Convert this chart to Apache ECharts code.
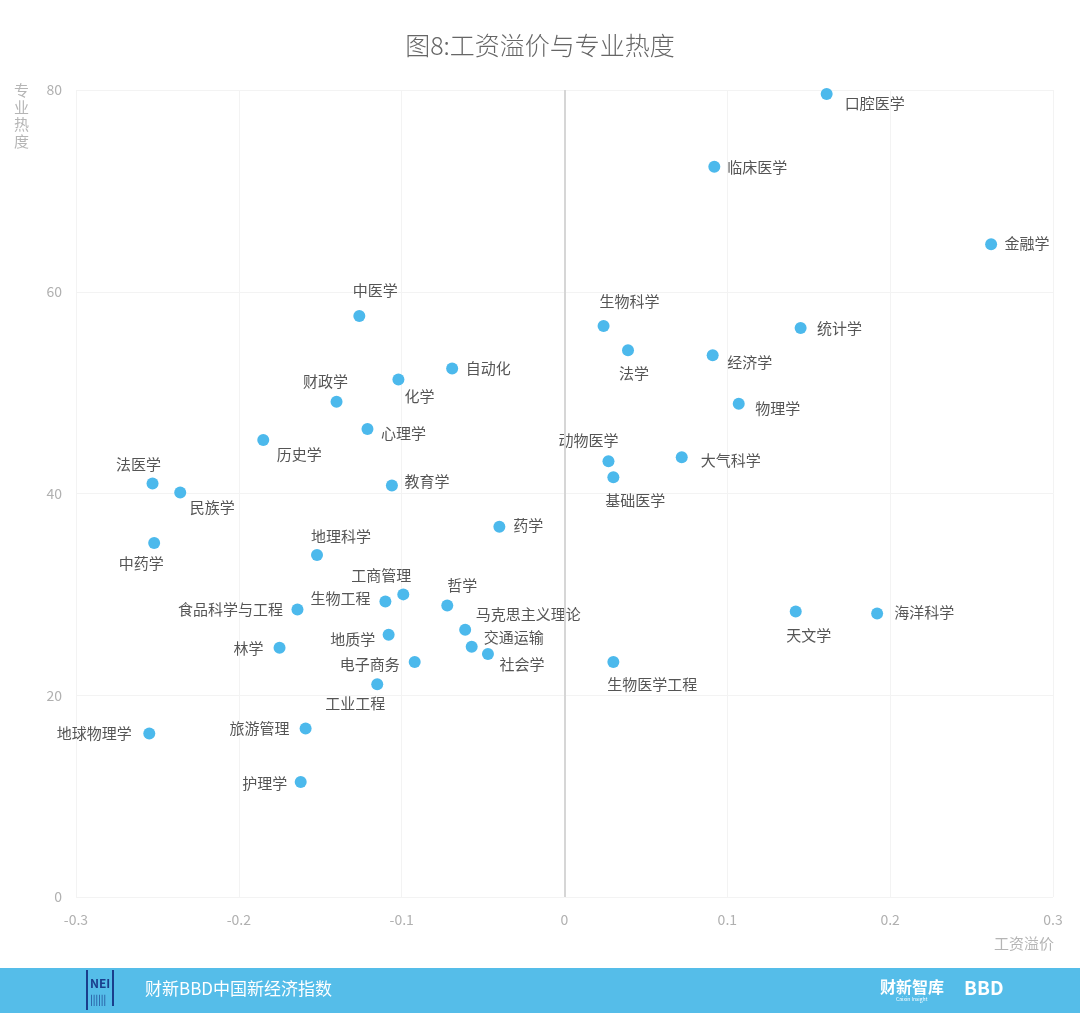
<!DOCTYPE html>
<html>
<head>
<meta charset="utf-8">
<script src="https://cdn.jsdelivr.net/npm/echarts@6/dist/echarts.min.js"></script>
<style>
  html, body { margin: 0; padding: 0; background: #fff; }
  #chart { width: 1080px; height: 1013px; }
</style>
</head>
<body>
<div id="chart"></div>
<script>
// majors, salary premium (x) and popularity (y)
const majors = [
  "口腔医学", "临床医学", "金融学", "中医学", "生物科学", "统计学", "法学", "经济学",
  "自动化", "化学", "财政学", "物理学", "心理学", "历史学", "动物医学", "大气科学",
  "基础医学", "法医学", "教育学", "民族学", "药学", "中药学", "地理科学", "工商管理",
  "哲学", "生物工程", "食品科学与工程", "天文学", "海洋科学", "马克思主义理论", "地质学",
  "交通运输", "林学", "社会学", "电子商务", "生物医学工程", "工业工程", "旅游管理",
  "地球物理学", "护理学"
];
const salaryPremium = [
  0.161, 0.092, 0.262, -0.126, 0.024, 0.145, 0.039, 0.091,
  -0.069, -0.102, -0.140, 0.107, -0.121, -0.185, 0.027, 0.072,
  0.030, -0.253, -0.106, -0.236, -0.040, -0.252, -0.152, -0.099,
  -0.072, -0.110, -0.164, 0.142, 0.192, -0.061, -0.108,
  -0.057, -0.175, -0.047, -0.092, 0.030, -0.115, -0.159,
  -0.255, -0.162
];
const popularity = [
  79.6, 72.4, 64.7, 57.6, 56.6, 56.4, 54.2, 53.7,
  52.4, 51.3, 49.1, 48.9, 46.4, 45.3, 43.2, 43.6,
  41.6, 41.0, 40.8, 40.1, 36.7, 35.1, 33.9, 30.0,
  28.9, 29.3, 28.5, 28.3, 28.1, 26.5, 26.0,
  24.8, 24.7, 24.1, 23.3, 23.3, 21.1, 16.7,
  16.2, 11.4
];
const xTicks = [-0.3, -0.2, -0.1, 0, 0.1, 0.2, 0.3];
const yTicks = [0, 20, 40, 60, 80];

// label offset from dot centre, [dx, dy] in px
const labelOffset = {
  "口腔医学": [48, 9], "临床医学": [43, 1], "金融学": [36, -1], "中医学": [16, -26],
  "生物科学": [26, -25], "统计学": [39, 0], "法学": [6, 23], "经济学": [37, 7],
  "自动化": [36, 0], "化学": [21, 17], "财政学": [-11, -20], "物理学": [39, 5],
  "心理学": [36, 4], "历史学": [36, 14], "动物医学": [-20, -21], "大气科学": [49, 3],
  "基础医学": [22, 23], "法医学": [-14, -19], "教育学": [35, -4], "民族学": [32, 15],
  "药学": [29, -1], "中药学": [-13, 20], "地理科学": [24, -19], "工商管理": [-22, -19],
  "哲学": [15, -20], "生物工程": [-45, -3], "食品科学与工程": [-67, 0], "天文学": [13, 24],
  "海洋科学": [47, -1], "马克思主义理论": [63, -15], "地质学": [-36, 5], "交通运输": [42, -10],
  "林学": [-31, 0], "社会学": [34, 10], "电子商务": [-45, 2], "生物医学工程": [39, 22],
  "工业工程": [-22, 19], "旅游管理": [-46, 0], "地球物理学": [-55, 0], "护理学": [-36, 1]
};

const FONT = '"Noto Sans CJK SC", "Noto Sans", sans-serif';

const points = majors.map((name, i) => ({
  name,
  value: [salaryPremium[i], popularity[i]]
}));

const chart = echarts.init(document.getElementById("chart"));

const option = {
  animation: false,
  backgroundColor: "#fff",
  title: {
    text: "图8:工资溢价与专业热度",
    left: "center",
    top: 28,
    textStyle: { fontFamily: FONT, fontSize: 25, fontWeight: 300, color: "#666" }
  },
  grid: { left: 76, right: 27, top: 90, bottom: 116 },
  xAxis: {
    type: "value",
    min: -0.3,
    max: 0.3,
    interval: 0.1,
    axisLine: { show: false },
    axisTick: { show: false },
    axisLabel: {
      margin: 16,
      color: "#b0b0b0",
      fontFamily: FONT,
      fontSize: 14,
      formatter: (v) => {
        const r = Math.round(v * 10) / 10;
        return xTicks.includes(r) ? String(r) : "";
      }
    },
    splitLine: { lineStyle: { color: "#f3f3f3" } }
  },
  yAxis: {
    type: "value",
    min: 0,
    max: 80,
    interval: 20,
    axisLine: { show: false },
    axisTick: { show: false },
    axisLabel: {
      margin: 14,
      color: "#b0b0b0",
      fontFamily: FONT,
      fontSize: 14,
      formatter: (v) => (yTicks.includes(v) ? String(v) : "")
    },
    splitLine: { lineStyle: { color: "#f3f3f3" } }
  },
  series: [
    {
      type: "scatter",
      symbolSize: 12,
      itemStyle: { color: "#4cb9ec", opacity: 1 },
      label: {
        show: true,
        position: "inside",
        formatter: "{b}",
        color: "#555",
        fontFamily: FONT,
        fontSize: 15
      },
      labelLayout: (params) => {
        const off = labelOffset[majors[params.dataIndex]] || [0, 0];
        return { dx: off[0], dy: off[1], hideOverlap: false };
      },
      data: points,
      markLine: {
        silent: true,
        symbol: "none",
        label: { show: false },
        lineStyle: { color: "#d6d6d6", width: 2, type: "solid" },
        data: [{ xAxis: 0 }]
      },
      z: 3
    }
  ],
  graphic: [
    {
      type: "text",
      left: 14,
      top: 82,
      style: {
        text: "专\n业\n热\n度",
        fill: "#b5b5b5",
        font: "15px " + FONT,
        lineHeight: 17
      }
    },
    {
      type: "text",
      right: 26,
      top: 936,
      style: { text: "工资溢价", fill: "#b5b5b5", font: "15px " + FONT }
    },
    {
      type: "rect",
      left: 0,
      top: 968,
      shape: { width: 1080, height: 45 },
      style: { fill: "#55bde9" }
    },
    {
      type: "group",
      left: 86,
      top: 970,
      children: [
        { type: "rect", shape: { x: 0, y: 0, width: 2, height: 40 }, style: { fill: "#1a3e8c" } },
        { type: "rect", shape: { x: 26, y: 0, width: 2, height: 36 }, style: { fill: "#1a3e8c" } },
        {
          type: "text",
          x: 4,
          y: 7,
          style: { text: "NEI", fill: "#1a3e8c", font: "bold 12px " + FONT }
        },
        {
          type: "text",
          x: 4,
          y: 24,
          style: { text: "||||||", fill: "#1a3e8c", font: "10px " + FONT }
        }
      ]
    },
    {
      type: "text",
      left: 145,
      top: 980,
      style: { text: "财新BBD中国新经济指数", fill: "#fff", font: "17px " + FONT }
    },
    {
      type: "text",
      left: 880,
      top: 979,
      style: { text: "财新智库", fill: "#fff", font: "bold 16px " + FONT }
    },
    {
      type: "text",
      left: 896,
      top: 997,
      style: { text: "Caixin Insight", fill: "#fff", font: "5px " + FONT }
    },
    {
      type: "text",
      left: 964,
      top: 978,
      style: { text: "BBD", fill: "#fff", font: "bold 19px " + FONT }
    }
  ]
};

chart.setOption(option);
</script>
</body>
</html>
